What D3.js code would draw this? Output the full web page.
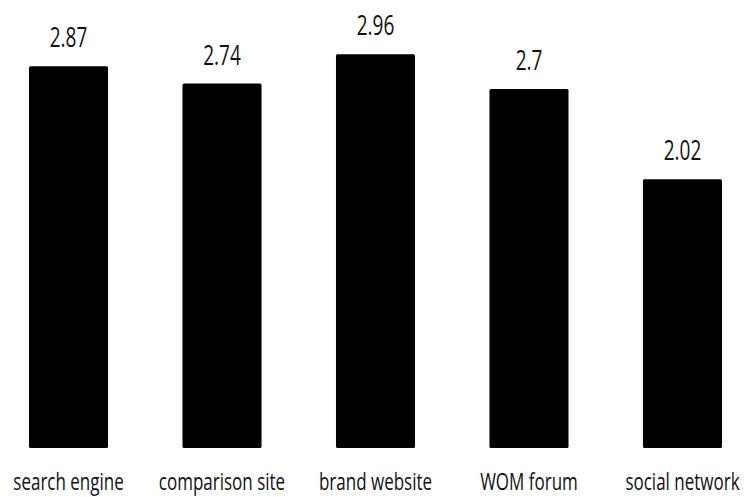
<!DOCTYPE html>
<html>
<head>
<meta charset="utf-8">
<script src="https://cdn.jsdelivr.net/npm/d3@7"></script>
<style>
  html, body { margin: 0; padding: 0; background: #fff; }
  svg { display: block; }
  text { font-family: "Open Sans", "DejaVu Sans", sans-serif; fill: #111; }
</style>
</head>
<body>
<svg id="chart" width="745" height="497"></svg>
<script>
// Mean ratings per information source
const categories = ["search engine", "comparison site", "brand website", "WOM forum", "social network"];
const values = [2.87, 2.74, 2.96, 2.7, 2.02];
const valueLabels = ["2.87", "2.74", "2.96", "2.7", "2.02"];

const svg = d3.select("#chart");

const x = d3.scaleBand()
  .domain(categories)
  .range([29, 722])
  .paddingInner(0.485)
  .paddingOuter(0);

const y = d3.scaleLinear()
  .domain([0, 3])
  .range([448, 49]);

// Text in this chart is drawn tall and narrow
const stretch = 1.4;

svg.append("g")
  .selectAll("rect")
  .data(values)
  .join("rect")
  .attr("x", (d, i) => x(categories[i]))
  .attr("y", d => y(d))
  .attr("width", x.bandwidth())
  .attr("height", d => y(0) - y(d))
  .attr("rx", 1.5)
  .attr("fill", "#000");

// value labels above bars
svg.append("g")
  .selectAll("text")
  .data(values)
  .join("text")
  .attr("text-anchor", "middle")
  .attr("font-size", 19)
  .attr("transform", (d, i) =>
    `translate(${x(categories[i]) + x.bandwidth() / 2},${y(d) - 19}) scale(1,${stretch})`)
  .text((d, i) => valueLabels[i]);

// category axis labels
const xAxis = d3.axisBottom(x).tickSize(0).tickPadding(0);
const gx = svg.append("g").attr("transform", `translate(0,${y(0)})`).call(xAxis);
gx.select(".domain").remove();
gx.selectAll(".tick text")
  .attr("y", null)
  .attr("dy", null)
  .attr("font-size", 17)
  .attr("font-family", "\"Open Sans\", sans-serif")
  .attr("fill", "#111")
  .attr("transform", `translate(0,42) scale(1,${stretch})`);
</script>
</body>
</html>
